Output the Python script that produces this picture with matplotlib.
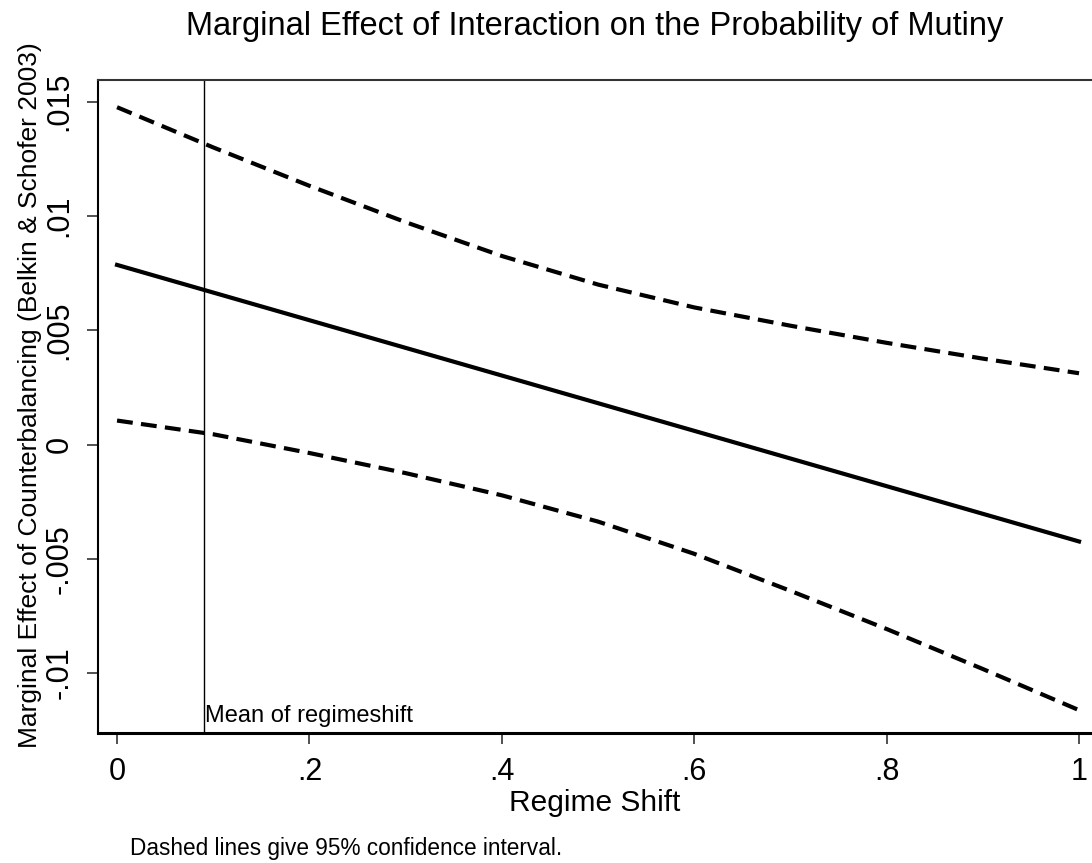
import matplotlib
matplotlib.use("Agg")
from matplotlib import pyplot as plt

# values
regime_shift = [0.0, 0.1, 0.2, 0.3, 0.4, 0.5, 0.6, 0.7, 0.8, 0.9, 1.0]
marginal_effect = [0.00786, 0.00665, 0.00544, 0.00423, 0.00302, 0.00181,
                   0.00060, -0.00061, -0.00182, -0.00303, -0.00424]
ci_upper = [0.01476, 0.01300, 0.01132, 0.00973, 0.00825, 0.00700,
            0.00600, 0.00520, 0.00445, 0.00376, 0.00312]
ci_lower = [0.00105, 0.00045, -0.00037, -0.00125, -0.00222, -0.00337,
            -0.00478, -0.00640, -0.00807, -0.00982, -0.01162]
mean_regimeshift = 0.09

x_ticks = [0, 0.2, 0.4, 0.6, 0.8, 1.0]
x_tick_labels = ['0', '.2', '.4', '.6', '.8', '1']
y_ticks = [-0.01, -0.005, 0, 0.005, 0.01, 0.015]
y_tick_labels = ['-.01', '-.005', '0', '.005', '.01', '.015']

plt.rcParams['font.family'] = ['Liberation Sans', 'DejaVu Sans']

fig = plt.figure(figsize=(10.92, 8.63), dpi=100)
ax = fig.add_axes([98 / 1092, 1 - 733 / 863, 1 - 98 / 1092, (733 - 80) / 863])

dash = (3.8, 2.0)
ax.plot(regime_shift, ci_upper, color='black', lw=3, linestyle=(0, dash))
ax.plot(regime_shift, marginal_effect, color='black', lw=3)
ax.plot(regime_shift, ci_lower, color='black', lw=3, linestyle=(0, dash))
ax.axvline(mean_regimeshift, color='black', lw=1)
ax.annotate('Mean of regimeshift', xy=(mean_regimeshift, 0), xycoords=('data', 'axes fraction'),
            xytext=(1, 4), textcoords='offset points', fontsize=17, ha='left', va='bottom')

ax.set_xlim(-0.0198, 1.0135)
ax.set_ylim(-0.01262, 0.01595)
ax.set_xticks(x_ticks)
ax.set_xticklabels(x_tick_labels, fontsize=22)
ax.set_yticks(y_ticks)
ax.set_yticklabels(y_tick_labels, fontsize=22, rotation=90, va='center')
ax.tick_params(axis='both', direction='out', length=8, width=1.2, color='#333333', pad=9)

ax.spines['right'].set_visible(False)
ax.spines['left'].set_linewidth(1.5)
ax.spines['bottom'].set_linewidth(2.2)
ax.spines['top'].set_linewidth(1.5)
ax.spines['top'].set_color('#333333')

ax.set_xlabel('Regime Shift', fontsize=21.5, labelpad=2)
fig.text(30 / 1092, 1 - 395 / 863, 'Marginal Effect of Counterbalancing (Belkin & Schofer 2003)',
         rotation=90, fontsize=19, ha='center', va='center')
fig.text(595 / 1092, 1 - 27 / 863, 'Marginal Effect of Interaction on the Probability of Mutiny',
         fontsize=23.5, ha='center', va='center')
fig.text(130 / 1092, 1 - 848 / 863, 'Dashed lines give 95% confidence interval.',
         fontsize=16.3, ha='left', va='center')

fig.savefig('out.png', dpi=100)
